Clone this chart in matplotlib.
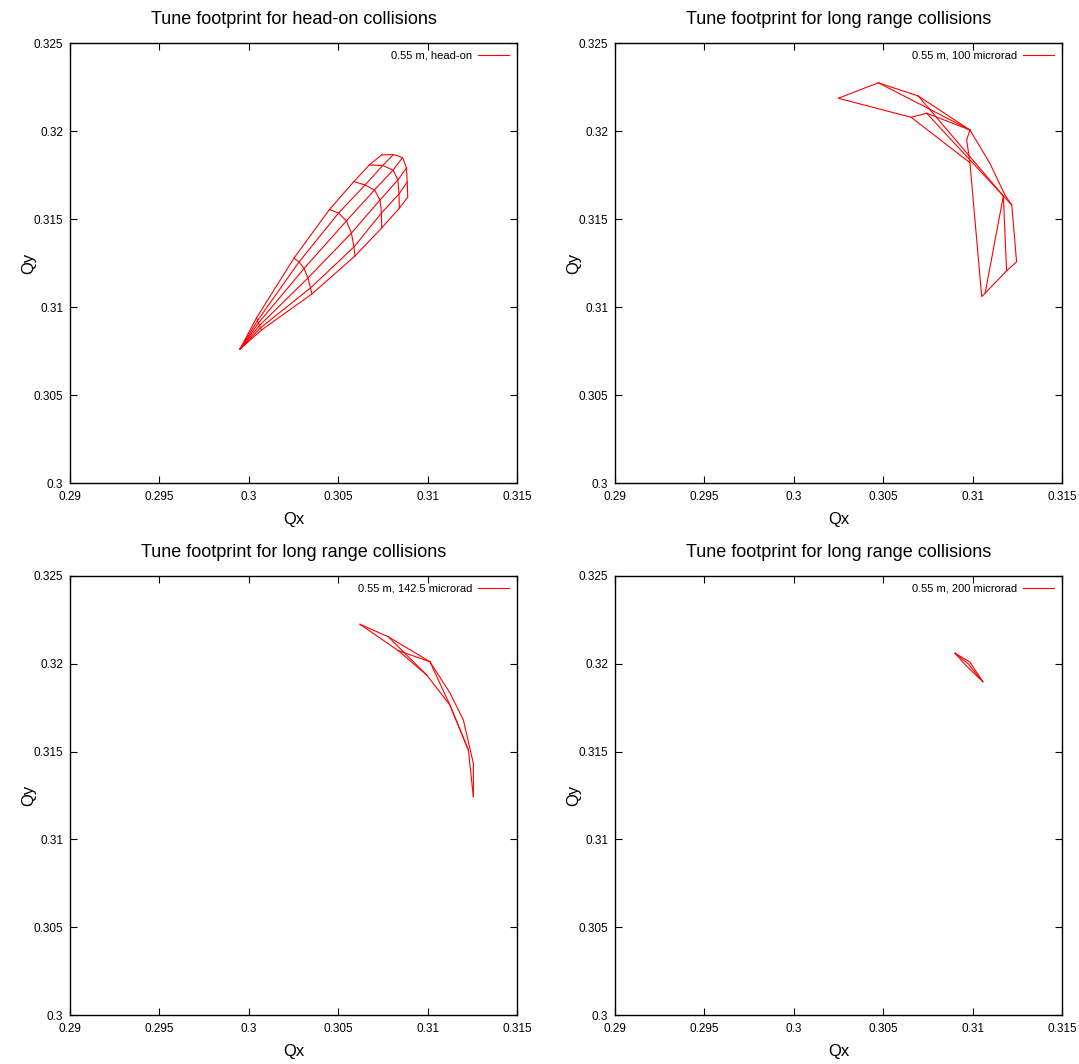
import numpy as np
import matplotlib
matplotlib.use("Agg")
import matplotlib.pyplot as plt

plt.rcParams['font.family'] = ['Liberation Sans Narrow', 'Liberation Sans', 'DejaVu Sans']

# head-on footprint: tip (zero amplitude) + 6 amplitude levels x 6 angles
tip_qx = 0.29951
tip_qy = 0.30761
head_qx = [
    [0.30043, 0.30049, 0.30054, 0.30060, 0.30065, 0.30071],
    [0.30253, 0.30281, 0.30309, 0.30331, 0.30345, 0.30353],
    [0.30451, 0.30502, 0.30546, 0.30574, 0.30588, 0.30594],
    [0.30588, 0.30650, 0.30703, 0.30734, 0.30742, 0.30743],
    [0.30674, 0.30749, 0.30807, 0.30834, 0.30840, 0.30842],
    [0.30743, 0.30809, 0.30860, 0.30882, 0.30886, 0.30889],
]
head_qy = [
    [0.30938, 0.30923, 0.30909, 0.30895, 0.30881, 0.30869],
    [0.31278, 0.31256, 0.31219, 0.31165, 0.31108, 0.31074],
    [0.31554, 0.31534, 0.31489, 0.31420, 0.31341, 0.31290],
    [0.31713, 0.31693, 0.31665, 0.31608, 0.31534, 0.31449],
    [0.31807, 0.31804, 0.31778, 0.31722, 0.31642, 0.31561],
    [0.31864, 0.31866, 0.31849, 0.31790, 0.31710, 0.31625],
]

# long range, 100 microrad: polylines (qx list, qy list)
lr100 = [
    ([0.30473, 0.30249, 0.30656, 0.30743, 0.30985], [0.32274, 0.32186, 0.32078, 0.32101, 0.32006]),
    ([0.30473, 0.30696, 0.30985], [0.32274, 0.32199, 0.32006]),
    ([0.30473, 0.30985], [0.32274, 0.32006]),
    ([0.30656, 0.30985], [0.32078, 0.31820]),
    ([0.30696, 0.31172], [0.32199, 0.31631]),
    ([0.30743, 0.31172], [0.32101, 0.31631]),
    ([0.30985, 0.30967, 0.30985, 0.31051, 0.31190, 0.31246, 0.31219, 0.31181, 0.31097, 0.30985],
     [0.32006, 0.31949, 0.31820, 0.31059, 0.31205, 0.31257, 0.31580, 0.31636, 0.31816, 0.32006]),
    ([0.31172, 0.31190], [0.31631, 0.31205]),
    ([0.31172, 0.31070], [0.31631, 0.31078]),
    ([0.31172, 0.31219], [0.31631, 0.31580]),
]

# long range, 142.5 microrad
lr142 = [
    ([0.30622, 0.30780, 0.31013], [0.32225, 0.32154, 0.32012]),
    ([0.30622, 0.30836, 0.30995], [0.32225, 0.32075, 0.31936]),
    ([0.30780, 0.30995], [0.32154, 0.31936]),
    ([0.30836, 0.31013], [0.32075, 0.32012]),
    ([0.31013, 0.31125, 0.31200, 0.31256, 0.31256], [0.32012, 0.31834, 0.31680, 0.31433, 0.31243]),
    ([0.30995, 0.31125, 0.31228, 0.31256], [0.31936, 0.31765, 0.31509, 0.31243]),
    ([0.31013, 0.31125, 0.31228], [0.32012, 0.31765, 0.31509]),
]

# long range, 200 microrad
lr200 = [
    ([0.30902, 0.30985, 0.31057], [0.32060, 0.32010, 0.31898]),
    ([0.30902, 0.30963, 0.31057], [0.32060, 0.31990, 0.31898]),
    ([0.30902, 0.30975, 0.31057], [0.32060, 0.32000, 0.31898]),
]

titles = ["Tune footprint for head-on collisions",
          "Tune footprint for long range collisions",
          "Tune footprint for long range collisions",
          "Tune footprint for long range collisions"]
labels = ["0.55 m, head-on", "0.55 m, 100 microrad",
          "0.55 m, 142.5 microrad", "0.55 m, 200 microrad"]
xticks = [0.29, 0.295, 0.3, 0.305, 0.31, 0.315]
xtick_labels = ["0.29", "0.295", "0.3", "0.305", "0.31", "0.315"]
yticks = [0.3, 0.305, 0.31, 0.315, 0.32, 0.325]
ytick_labels = ["0.3", "0.305", "0.31", "0.315", "0.32", "0.325"]

fig = plt.figure(figsize=(10.79, 10.64), dpi=100)
W, H = 1079, 1064
boxes = [(70, 43, 447, 440), (615, 43, 447, 440),
         (70, 576, 447, 439), (615, 576, 447, 439)]
axes = []
for (l, t, w, h) in boxes:
    axes.append(fig.add_axes([l / W, 1 - (t + h) / H, w / W, h / H]))

red = '#ff0000'
lw = 0.8

# head-on grid
ax = axes[0]
for j in range(6):
    ax.plot([tip_qx] + [row[j] for row in head_qx],
            [tip_qy] + [row[j] for row in head_qy], color=red, lw=lw)
for i in range(6):
    ax.plot(head_qx[i], head_qy[i], color=red, lw=lw)

for ax, lines in zip(axes[1:], [lr100, lr142, lr200]):
    for qx, qy in lines:
        ax.plot(qx, qy, color=red, lw=lw)

for k, ax in enumerate(axes):
    ax.set_xlim(0.29, 0.315)
    ax.set_ylim(0.3, 0.325)
    ax.set_xticks(xticks)
    ax.set_xticklabels(xtick_labels)
    ax.set_yticks(yticks)
    ax.set_yticklabels(ytick_labels)
    ax.tick_params(direction='in', top=True, right=True, length=5, width=0.8,
                   labelsize=8.5)
    ax.tick_params(axis='x', pad=6)
    ax.tick_params(axis='y', pad=5)
    for s in ax.spines.values():
        s.set_linewidth(1.0)
    ax.set_title(titles[k], fontsize=13, pad=14)
    ax.set_xlabel("Qx", fontsize=12, labelpad=6)
    ax.set_ylabel("Qy", fontsize=12, labelpad=-2)
    h = plt.Line2D([], [], color=red, lw=lw)
    ax.legend([h], [labels[k]], loc='upper right', frameon=False,
              markerfirst=False, fontsize=8, handlelength=2.8,
              borderaxespad=0.3, handletextpad=0.5)

fig.savefig("out.png", dpi=100)
